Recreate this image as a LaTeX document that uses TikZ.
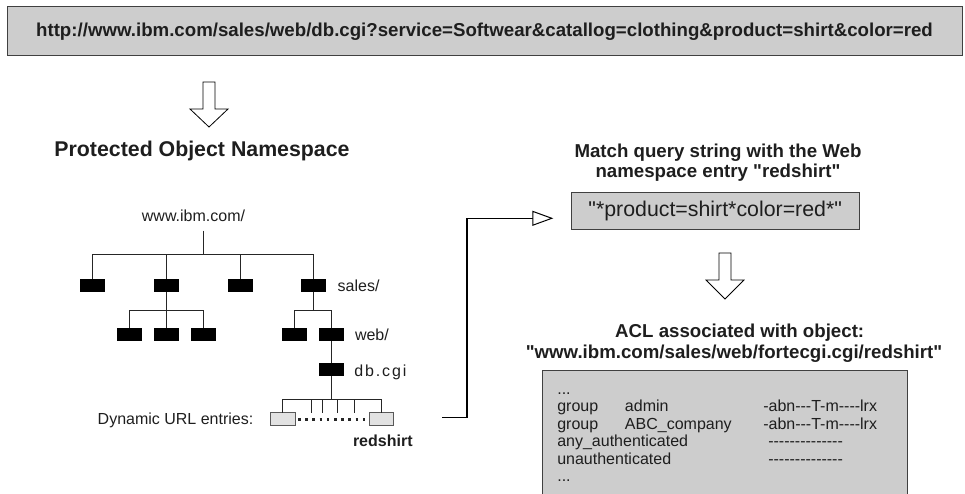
\documentclass[tikz,border=0pt]{standalone}
\usepackage{fontspec}
\newfontfamily\ar{Liberation Sans}
\usetikzlibrary{arrows.meta}
\definecolor{boxgray}{HTML}{CDCDCD}
\definecolor{lightbox}{HTML}{E2E2E2}
\definecolor{txt}{HTML}{1E1E1E}
\newcommand\lsp{\kern1.9pt}
\begin{document}
\begin{tikzpicture}[x=1pt,y=-1pt, font=\ar, text=txt,
  every node/.style={inner sep=0pt, outer sep=0pt},
  tl/.style={draw=black!85, line width=0.9pt},
  blk/.style={fill=black, minimum width=25pt, minimum height=13pt},
  gbox/.style={draw=black!65, fill=lightbox, line width=0.8pt, minimum width=24.5pt, minimum height=13pt},
  lbl/.style={font=\ar\fontsize{16}{17.5}\selectfont},
  hd/.style={font=\ar\bfseries\fontsize{18.67}{20}\selectfont},
  graybox/.style={draw=black!75, fill=boxgray, line width=0.9pt},
  barrow/.style={draw=black, fill=white, line width=0.8pt, line join=miter},
  conn/.style={draw=black, line width=1.5pt, -{Triangle[length=21pt, width=15pt, fill=white, line width=1pt]}},
  dotline/.style={draw=black!85, line width=2.6pt, dash pattern=on 2.6pt off 4.6pt}
]
\clip (0,0) rectangle (965,494);

% top URL box
\node[graybox, line width=1pt, minimum width=955pt, minimum height=49pt, font=\ar\bfseries\fontsize{18.67}{20}\selectfont] (url) at (484.5,31.5)
  {http://www.ibm.com/sales/web/db.cgi?service=Softwear\&catallog=clothing\&product=shirt\&color=red};

% block arrow 1
\draw[barrow] (203,82) -- (215,82) -- (215,109) -- (228,109) -- (209,127) -- (190,109) -- (203,109) -- cycle;

% heading left
\node[anchor=base, font=\ar\bfseries\fontsize{21.33}{24}\selectfont] (pon) at (202,157) {Protected Object Namespace};

% tree
\node[lbl, anchor=base] (root) at (193.5,222) {www.ibm.com/};
\node[blk] (b1) at (92.5,285) {};
\node[blk] (b2) at (166,285) {};
\node[blk] (b3) at (240,285) {};
\node[blk] (b4) at (313,285) {};
\node[lbl, anchor=base west] (sales) at (337.7,291) {sales/};
\node[blk] (b21) at (129.2,334.5) {};
\node[blk] (b22) at (166,334.5) {};
\node[blk] (b23) at (203.2,334.5) {};
\node[blk] (b41) at (294.8,334.5) {};
\node[blk] (b42) at (331.5,334.5) {};
\node[lbl, anchor=base west] (web) at (355,340.3) {web/};
\node[blk] (db) at (331.5,369.7) {};
\node[lbl, anchor=base west] (dbl) at (354.3,376) {d\lsp b\lsp .\lsp c\lsp g\lsp i};
\node[gbox] (g1) at (282.8,419.2) {};
\node[gbox] (g2) at (381.3,419.2) {};
\node[lbl, anchor=base east] (dyn) at (253.3,424) {Dynamic URL entries:};
\node[lbl, anchor=base, font=\ar\bfseries\fontsize{16}{17.5}\selectfont] (red) at (382.8,446.5) {redshirt};

\coordinate (rt) at (203.3,230.7);
\coordinate (h1) at (203.3,254.3);
\coordinate (h2) at (0,310);
\coordinate (h3) at (0,399);
\draw[tl] (rt) -- (h1);
\draw[tl] (b1.north) -- (b1.north |- h1) -- (b4.north |- h1) -- (b4.north);
\draw[tl] (b2.north) -- (b2.north |- h1);
\draw[tl] (b3.north) -- (b3.north |- h1);
\draw[tl] (b2.south) -- (b2.south |- h2);
\draw[tl] (b21.north) -- (b21.north |- h2) -- (b23.north |- h2) -- (b23.north);
\draw[tl] (b22.north) -- (b22.north |- h2);
\draw[tl] (b4.south) -- (b4.south |- h2);
\draw[tl] (b41.north) -- (b41.north |- h2) -- (b42.north |- h2) -- (b42.north);
\draw[tl] (b42.south) -- (db.north);
\draw[tl] (db.south) -- (db.south |- h3);
\draw[tl] (g1.north) -- (g1.north |- h3) -- (g2.north |- h3) -- (g2.north);
\foreach \x in {311,322.7,337.7,354}
  \draw[tl] (\x,399) -- (\x,412.7);
\draw[dotline] ([xshift=3pt]g1.east) -- (g2.west);

% connector
\coordinate (c1) at (442.3,417.7);
\coordinate (c2) at (553.3,218.3);
\draw[conn] (c1) -- ++(24.7,0) |- (c2);

% right side
\node[hd, anchor=base] (m1) at (718,158) {Match query string with the Web};
\node[hd, anchor=base] (m2) at (718,177.5) {namespace entry "redshirt"};
\node[graybox, minimum width=288pt, minimum height=37pt, font=\ar\fontsize{21.33}{24}\selectfont] (q) at (715.2,211) {"*product=shirt*color=red*"};

\draw[barrow] (719,253) -- (731,253) -- (731,280) -- (744,280) -- (725,299) -- (706,280) -- (719,280) -- cycle;

\node[hd, anchor=base] (a1) at (739.7,337.5) {ACL associated with object:};
\node[hd, anchor=base] (a2) at (734,358) {"www.ibm.com/sales/web/fortecgi.cgi/redshirt"};

\node[graybox, minimum width=365.4pt, minimum height=132pt, anchor=north west] (acl) at (542.3,370) {};
\node[lbl, anchor=base west] (tbl) at (557.3,394) {\begin{tabular}[t]{@{}p{67.7pt}@{}p{138.3pt}@{}l@{}}
...\\
group & admin & -abn---T-m----lrx\\
group & ABC\_company & -abn---T-m----lrx\\
\multicolumn{2}{@{}l@{}}{any\_authenticated} & \hspace{5pt}--------------\\
\multicolumn{2}{@{}l@{}}{unauthenticated} & \hspace{5pt}--------------\\
...
\end{tabular}};
\end{tikzpicture}
\end{document}
